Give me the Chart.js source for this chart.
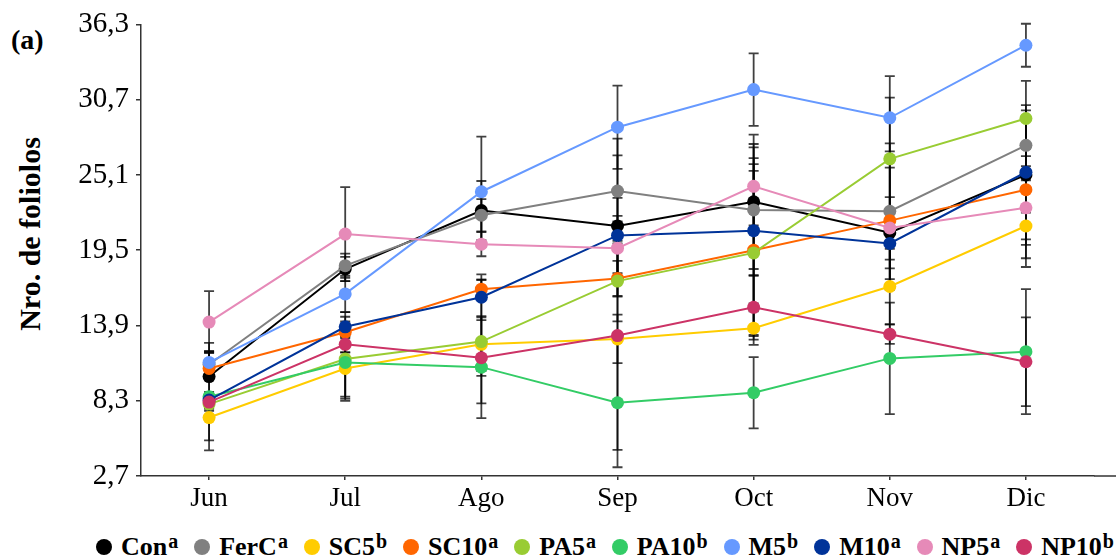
<!DOCTYPE html>
<html lang="es">
<head>
  <meta charset="UTF-8" />
  <title>Nro. de foliolos</title>
  <script src="https://cdn.jsdelivr.net/npm/chart.js"></script>
  <style>
    * { box-sizing: border-box; margin: 0; padding: 0; }
    body { width: 1118px; height: 557px; background: #fff; position: relative; overflow: hidden;
           font-family: 'Liberation Serif', 'Times New Roman', serif; color: #000; }
    .chart-box { position: absolute; left: 0; top: 0; width: 1118px; height: 515px; }
    .panel { position: absolute; left: 11px; top: 26px; font-weight: bold; font-size: 28px; line-height: 1; }
    .ytitle { position: absolute; left: 30px; top: 234px; transform: translate(-50%, -50%) rotate(-90deg);
              font-weight: bold; font-size: 30px; line-height: 1; white-space: nowrap; }
    #legend { position: absolute; left: 96px; right: 4px; top: 534px; height: 26px; display: flex;
              justify-content: space-between; align-items: center; font-weight: bold; font-size: 26px; line-height: 1; }
    #legend .item { display: flex; align-items: center; gap: 9px; }
    #legend i { width: 16px; height: 16px; border-radius: 50%; display: inline-block; }
    #legend sup { font-size: 20px; vertical-align: baseline; position: relative; top: -7px; margin-left: 1px; }
  </style>
</head>
<body>
  <div class="panel">(a)</div>
  <div class="ytitle">Nro. de foliolos</div>
  <div class="chart-box"><canvas id="chart"></canvas></div>
  <div id="legend"></div>

  <script>
    const months = ["Jun", "Jul", "Ago", "Sep", "Oct", "Nov", "Dic"];
    const yTickLabels = ["2,7", "8,3", "13,9", "19,5", "25,1", "30,7", "36,3"];

    const names   = ["Con", "FerC", "SC5", "SC10", "PA5", "PA10", "M5", "M10", "NP5", "NP10"];
    const letters = ["a", "a", "b", "a", "a", "b", "b", "a", "a", "b"];
    const colors  = ["#000000", "#808080", "#ffcc00", "#ff6600", "#99cc33",
                     "#33cc66", "#6699ff", "#003399", "#e68ab8", "#cc3366"];

    // medias mensuales
    const con  = [10.1, 18.1, 22.45, 21.3, 23.1, 20.8, 25.1];
    const ferC = [11.0, 18.35, 22.1, 23.9, 22.5, 22.4, 27.3];
    const sc5  = [7.05, 10.7, 12.5, 12.9, 13.7, 16.8, 21.3];
    const sc10 = [10.7, 13.4, 16.6, 17.4, 19.5, 21.7, 24.0];
    const pa5  = [8.05, 11.4, 12.7, 17.2, 19.3, 26.3, 29.3];
    const pa10 = [8.6, 11.15, 10.8, 8.15, 8.9, 11.45, 11.95];
    const m5   = [11.15, 16.25, 23.85, 28.65, 31.45, 29.35, 34.75];
    const m10  = [8.35, 13.8, 16.0, 20.6, 20.95, 20.0, 25.3];
    const np5  = [14.15, 20.7, 19.95, 19.65, 24.25, 21.15, 22.65];
    const np10 = [8.2, 12.5, 11.5, 13.15, 15.25, 13.25, 11.2];

    // desvío (barras de error)
    const conErr  = [1.9, 0.9, 2.2, 5.25, 5.0, 2.65, 5.2];
    const ferCErr = [0.9, 0.9, 1.2, 3.9, 4.9, 5.05, 2.6];
    const sc5Err  = [1.7, 2.25, 2.0, 1.8, 1.25, 2.8, 1.0];
    const sc10Err = [0.6, 1.5, 0.7, 1.3, 6.4, 5.15, 5.1];
    const pa5Err  = [0.5, 2.8, 4.6, 3.0, 6.1, 4.55, 2.8];
    const pa10Err = [4.0, 2.85, 3.8, 4.8, 2.65, 4.15, 4.65];
    const m5Err   = [0.8, 1.35, 4.1, 3.1, 2.7, 3.1, 1.6];
    const m10Err  = [0.6, 0.75, 1.7, 2.8, 5.4, 1.2, 0.45];
    const np5Err  = [2.3, 3.5, 0.9, 2.4, 2.9, 4.5, 4.4];
    const np10Err = [0.5, 0.6, 1.35, 8.5, 2.4, 0.72, 3.3];

    const means  = [con, ferC, sc5, sc10, pa5, pa10, m5, m10, np5, np10];
    const errors = [conErr, ferCErr, sc5Err, sc10Err, pa5Err, pa10Err, m5Err, m10Err, np5Err, np10Err];

    const datasets = names.map((name, i) => ({
      label: name,
      data: means[i],
      errors: errors[i],
      borderColor: colors[i],
      backgroundColor: colors[i],
      pointBackgroundColor: colors[i],
      pointBorderWidth: 0,
      pointRadius: 6.5,
      borderWidth: 2,
      tension: 0,
      order: names.length - i
    }));

    // barras de error verticales con tope
    const errorBars = {
      id: "errorBars",
      beforeDatasetsDraw(chart) {
        const ctx = chart.ctx;
        const y = chart.scales.y;
        ctx.save();
        ctx.strokeStyle = "rgba(0,0,0,0.75)";
        ctx.lineWidth = 1.8;
        chart.data.datasets.forEach((ds, i) => {
          chart.getDatasetMeta(i).data.forEach((pt, j) => {
            const top = y.getPixelForValue(ds.data[j] + ds.errors[j]);
            const bot = y.getPixelForValue(ds.data[j] - ds.errors[j]);
            ctx.beginPath();
            ctx.moveTo(pt.x, top); ctx.lineTo(pt.x, bot);
            ctx.moveTo(pt.x - 5, top); ctx.lineTo(pt.x + 5, top);
            ctx.moveTo(pt.x - 5, bot); ctx.lineTo(pt.x + 5, bot);
            ctx.stroke();
          });
        });
        ctx.restore();
      },
      afterDraw(chart) {
        // el eje x sigue hasta el borde derecho
        const { ctx, chartArea } = chart;
        ctx.save();
        ctx.strokeStyle = "#333";
        ctx.lineWidth = 1.5;
        ctx.beginPath();
        ctx.moveTo(chartArea.right, chartArea.bottom);
        ctx.lineTo(chart.width - 2, chartArea.bottom);
        ctx.stroke();
        ctx.restore();
      }
    };

    new Chart(document.getElementById("chart"), {
      type: "line",
      data: { labels: months, datasets },
      options: {
        responsive: true,
        maintainAspectRatio: false,
        animation: false,
        layout: { padding: { top: 24, right: 24, left: 0, bottom: 0 } },
        plugins: { legend: { display: false }, tooltip: { enabled: false } },
        scales: {
          x: {
            offset: true,
            afterFit: s => { s.height = 39; },
            border: { display: true, color: "#333", width: 1.5 },
            grid: { drawOnChartArea: false, drawTicks: true, tickLength: 4, color: "#333", lineWidth: 1.5 },
            ticks: { color: "#000", padding: 3, font: { family: "'Liberation Serif', serif", size: 27 } }
          },
          y: {
            min: 2.7,
            max: 36.3,
            afterFit: s => { s.width = 141; },
            border: { display: true, color: "#333", width: 1.5 },
            grid: { drawOnChartArea: false, drawTicks: true, tickLength: 5, color: "#333", lineWidth: 1.5 },
            ticks: {
              stepSize: 5.6,
              color: "#000",
              padding: 7,
              font: { family: "'Liberation Serif', serif", size: 29 },
              callback: (v, idx) => yTickLabels[idx]
            }
          }
        }
      },
      plugins: [errorBars]
    });

    // leyenda con superíndices
    const legend = document.getElementById("legend");
    names.forEach((name, i) => {
      const item = document.createElement("span");
      item.className = "item";
      item.innerHTML = `<i style="background:${colors[i]}"></i><span>${name}<sup>${letters[i]}</sup></span>`;
      legend.appendChild(item);
    });
  </script>
</body>
</html>
